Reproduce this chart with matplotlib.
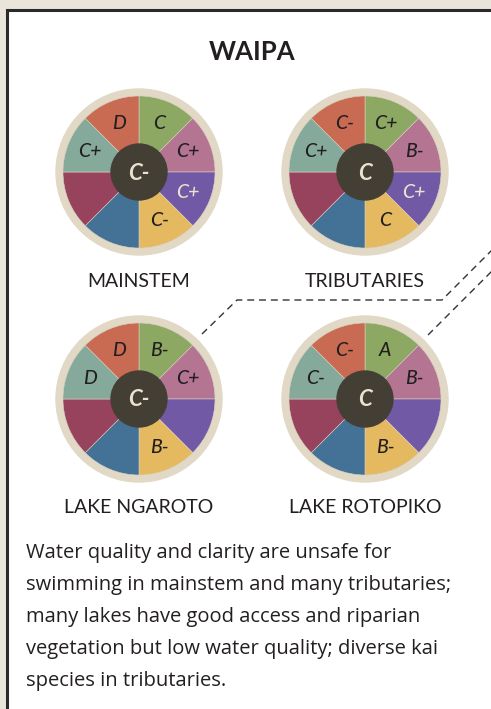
import numpy as np
import matplotlib.pyplot as plt
from matplotlib.patches import Circle, Rectangle

W, H = 491, 709

# wedge order: clockwise from 12 o'clock
wedge_colors = ['#8ca862', '#b47593', '#7159a6', '#e4b95f',
                '#447196', '#97435d', '#85a99b', '#c96b52']
light_label = [False, False, True, False, True, True, False, False]

sites = ['MAINSTEM', 'TRIBUTARIES', 'LAKE NGAROTO', 'LAKE ROTOPIKO']
overall = ['C-', 'C', 'C-', 'C']
mainstem_grades = ['C', 'C+', 'C+', 'C-', '', '', 'C+', 'D']
tributaries_grades = ['C+', 'B-', 'C+', 'C', '', '', 'C+', 'C-']
ngaroto_grades = ['B-', 'C+', '', 'B-', '', '', 'D', 'D']
rotopiko_grades = ['A', 'B-', '', 'B-', '', '', 'C-', 'C-']
all_grades = [mainstem_grades, tributaries_grades, ngaroto_grades, rotopiko_grades]

title = 'WAIPA'
summary = [
    'Water quality and clarity are unsafe for',
    'swimming in mainstem and many tributaries;',
    'many lakes have good access and riparian',
    'vegetation but low water quality; diverse kai',
    'species in tributaries.',
]

# pixel layout
centers = [(139, 172), (365, 172), (139, 399), (365, 399)]
label_y = [287, 287, 513, 513]
ring_r, pie_r, hub_r, lab_r = 83, 76, 28, 53

ink = '#231f20'
cream = '#ebe3cf'
plt.rcParams['font.family'] = ['Lato', 'DejaVu Sans']

fig = plt.figure(figsize=(W / 100, H / 100), dpi=100, facecolor='#e9e5da')
ax = fig.add_axes([0, 0, 1, 1])

# white panel with dark border (left/top only visible)
ax.add_patch(Rectangle((7.5, -10), W + 20, H - 10 + 10, facecolor='white',
                       edgecolor='#2a2a2a', lw=2.2, zorder=0))

for k, (cx, cy) in enumerate(centers):
    y = H - cy
    ax.add_patch(Circle((cx, y), ring_r, color='#e1d9c5', zorder=1))
    wedges, _ = ax.pie([1] * 8, colors=wedge_colors, startangle=90,
                       counterclock=False, radius=pie_r, center=(cx, y),
                       wedgeprops=dict(linewidth=0.4, edgecolor='#d8d0c0'))
    for w in wedges:
        w.set_zorder(2)
    ax.add_patch(Circle((cx, y), hub_r, color='#443f35', zorder=3))
    ax.text(cx, y - 1, overall[k], color=cream, fontsize=16, fontweight='bold',
            style='italic', ha='center', va='center', zorder=4)
    for i, g in enumerate(all_grades[k]):
        if not g:
            continue
        a = np.deg2rad(90 - 45 * (i + 0.5))
        ax.text(cx + lab_r * np.cos(a), y + lab_r * np.sin(a), g,
                color=cream if light_label[i] else ink, fontsize=14,
                fontweight='medium', style='italic', ha='center', va='center',
                zorder=4)
    ax.text(cx, H - label_y[k], sites[k], color=ink, fontsize=14,
            ha='center', va='baseline')

ax.text(252, H - 60, title, color=ink, fontsize=18.5, fontweight='bold',
        ha='center', va='baseline')

# dashed leader lines
ax.plot([202, 237, 442, 500], [H - 334, H - 300, H - 300, H - 242],
        color='#333333', lw=1.0, dashes=(5, 3.5), zorder=1)
ax.plot([428, 500], [H - 335, H - 263],
        color='#333333', lw=1.0, dashes=(5, 3.5), zorder=1)

for j, line in enumerate(summary):
    ax.text(26, H - (558 + 32 * j), line, color=ink, fontsize=14.5,
            family=['Open Sans', 'DejaVu Sans'], ha='left', va='baseline')

ax.set_xlim(0, W)
ax.set_ylim(0, H)
ax.set_aspect('auto')
ax.axis('off')

fig.savefig('out.png', dpi=100, facecolor=fig.get_facecolor())
